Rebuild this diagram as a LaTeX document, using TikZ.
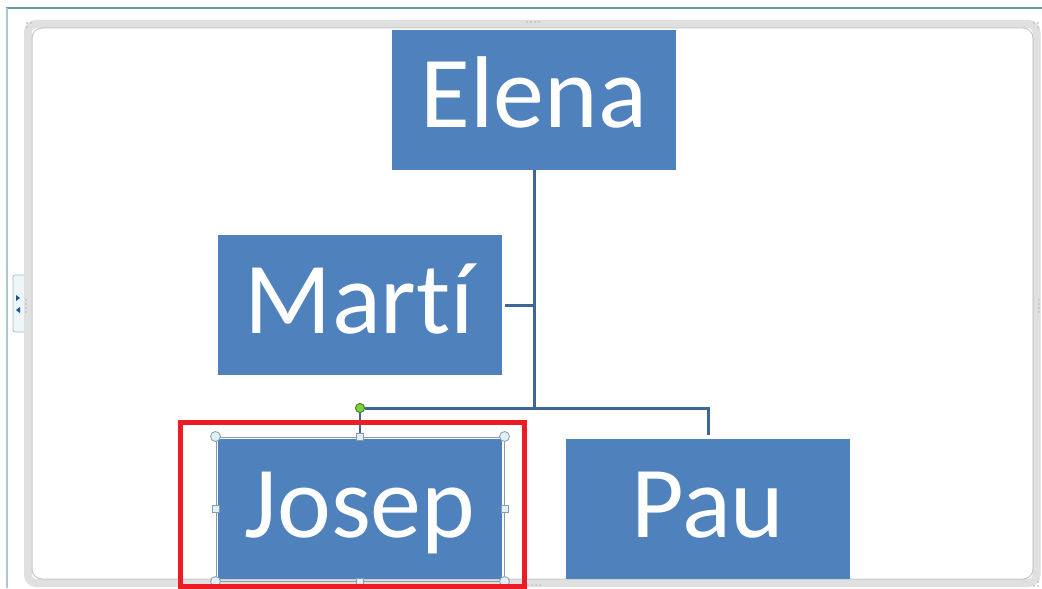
\documentclass[tikz,border=0pt]{standalone}
\usepackage{fontspec}
\setmainfont{Carlito}[Ligatures={NoCommon}]
\usepackage{tikz}
\usetikzlibrary{positioning, calc, fit}

\definecolor{boxblue}{RGB}{79,129,189}
\definecolor{linkblue}{RGB}{62,102,152}
\definecolor{selred}{RGB}{237,28,36}
\definecolor{framegray}{RGB}{224,224,224}
\definecolor{edgegray}{RGB}{200,200,200}
\definecolor{winteal}{RGB}{104,151,166}
\definecolor{handlefill}{RGB}{224,240,248}
\definecolor{handledraw}{RGB}{138,154,168}
\definecolor{rotgreen}{RGB}{124,210,60}
\definecolor{tabarrow}{RGB}{31,78,140}

\tikzset{
  person/.style={fill=boxblue, text=white, minimum width=142pt, minimum height=70pt,
    inner sep=0pt, outer sep=0pt, font=\fontsize{51}{60}\selectfont,
    text height=32pt, text depth=4pt},
  link/.style={linkblue, line width=1.5pt},
  corner handle/.style={circle, draw=handledraw, fill=handlefill, minimum size=5pt,
    inner sep=0pt, line width=0.4pt},
  side handle/.style={rectangle, draw=handledraw, fill=handlefill, minimum size=3.5pt,
    inner sep=0pt, line width=0.4pt},
  grip/.style={fill=gray!45}
}

\begin{document}
\begin{tikzpicture}[x=0.5pt, y=-0.5pt]
\useasboundingbox (0,0) rectangle (1042,588);

% window edges
\draw[winteal, line width=0.6pt] (6,8) -- (1042,8);
\draw[winteal!55, line width=0.8pt] (7,8) -- (7,588);

% side tab of the smartart frame
\draw[fill=handlefill!60, draw=handledraw!70, rounded corners=1pt] (13,275) rectangle (26,332);
\fill[tabarrow] (16,295) -- (20,298) -- (16,301) -- cycle;
\fill[tabarrow] (20,307) -- (16,310) -- (20,313) -- cycle;

% smartart frame
\draw[framegray, line width=4pt, rounded corners=4pt] (28,24) rectangle (1036.5,583);
\draw[edgegray, line width=0.5pt, rounded corners=5pt] (32,28) rectangle (1033,579);
\foreach \gx in {527,531,535,539} {
  \fill[grip] (\gx,22) circle (0.6pt);
  \fill[grip] (\gx+1,585) circle (0.6pt);
}
\foreach \gy in {300,304,308,312} {
  \fill[grip] (26,\gy) circle (0.6pt);
  \fill[grip] (1039,\gy) circle (0.6pt);
}
\foreach \gx/\gy in {27/23, 31/23, 27/27, 1034/23, 1038/23, 1038/27, 1038/582, 1034/586, 1038/586} {
  \fill[grip] (\gx,\gy) circle (0.6pt);
}

% org chart boxes
\node[person] (elena) at (534,100) {Elena};
\node[person] (marti) at (359.5,305) {Martí};
\node[person] (josep) at (360,509) {Josep};
\node[person] (pau) at (708,509) {Pau};

% rotation handle above the selected box
\node[circle, draw=rotgreen!60!black, fill=rotgreen, minimum size=4.5pt, inner sep=0pt,
  line width=0.4pt] (rot) at ($(josep.north)+(0,-31)$) {};

% connectors
\draw[link] (elena.south) |- (rot.east);
\draw[link, shorten >=1.5pt] (elena.south |- marti.east) -- (marti.east);
\draw[link, shorten >=2pt] (elena.south |- rot) -| (pau.north);
\draw[linkblue, line width=1.2pt] (rot.south) -- (josep.north);

% selection frame and handles
\node[draw=handledraw, line width=0.5pt, fit=(josep), inner sep=1pt] (sel) {};
\foreach \c in {north west, north east, south west, south east}
  \node[corner handle] at (sel.\c) {};
\foreach \c in {north, south, west, east}
  \node[side handle] at (sel.\c) {};
\node[circle, draw=rotgreen!60!black, fill=rotgreen, minimum size=4.5pt, inner sep=0pt,
  line width=0.4pt] at (rot) {};

% red highlight
\draw[selred, line width=2.5pt] (180.5,422.5) rectangle (524.5,586);

\end{tikzpicture}
\end{document}
